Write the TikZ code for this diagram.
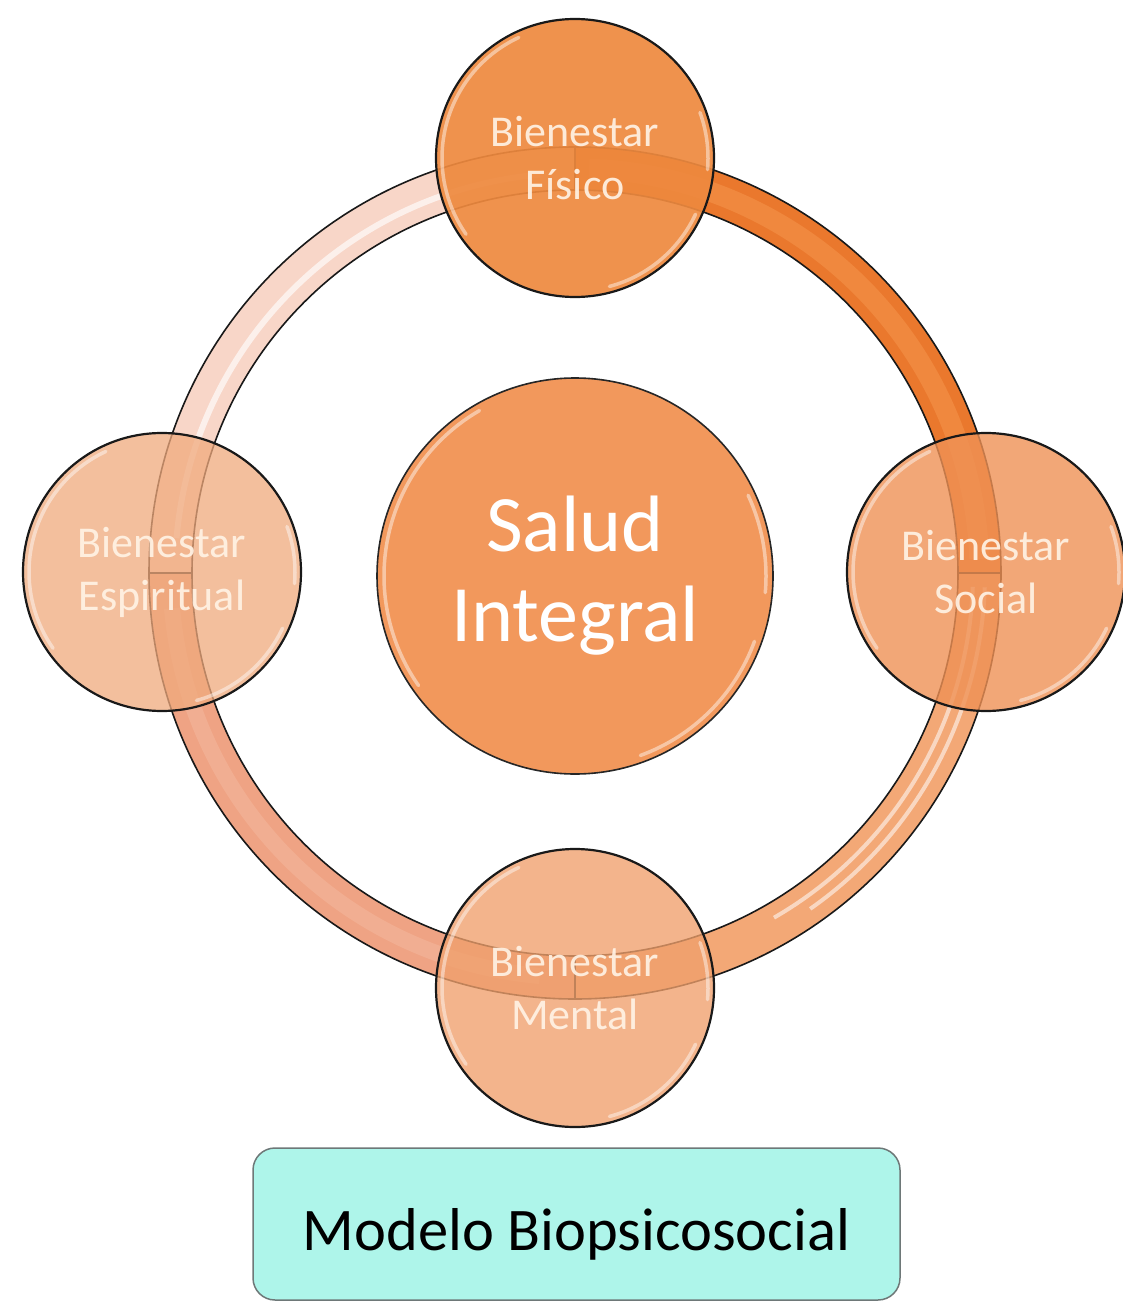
\documentclass[tikz,border=0pt]{standalone}
\usepackage{fontspec}
\setmainfont{Carlito}
\usetikzlibrary{calc}
\definecolor{ringTR}{RGB}{234,120,45}
\definecolor{ringTRmid}{RGB}{240,136,62}
\definecolor{ringBR}{RGB}{243,168,118}
\definecolor{ringBL}{RGB}{239,163,132}
\definecolor{ringBLmid}{RGB}{243,180,152}
\definecolor{ringTL}{RGB}{248,214,200}
\definecolor{satTop}{RGB}{238,137,62}
\definecolor{satRight}{RGB}{239,145,85}
\definecolor{satBottom}{RGB}{240,160,108}
\definecolor{satLeft}{RGB}{240,170,125}
\definecolor{ctrFill}{RGB}{242,152,92}
\definecolor{satText}{RGB}{255,242,228}
\definecolor{boxFill}{RGB}{174,245,234}
\definecolor{boxLine}{RGB}{110,120,120}
\begin{document}
\begin{tikzpicture}[x=1pt,y=1pt,
  sat/.style={circle, minimum size=278pt, inner sep=0pt, draw=black!90,
    line width=2.2pt, text=satText, text opacity=0.92, align=center,
    font=\fontsize{44}{53}\selectfont},
  rimlight/.style={white, opacity=0.45, line width=3.5pt, line cap=round},
  ringedge/.style={black!90, line width=1.6pt}]
\useasboundingbox (0,0) rectangle (1122,-1305);
\fill[white] (0,0) rectangle (1122,-1305);
\coordinate (O) at (575,-573);

% ring segments
\draw[line width=43pt, ringTR] ($(O)+(90:404.5)$) arc[start angle=90, end angle=0, radius=404.5];
\draw[line width=20pt, ringTRmid] ($(O)+(88:404.5)$) arc[start angle=88, end angle=2, radius=404.5];
\draw[line width=43pt, ringBR] ($(O)+(0:404.5)$) arc[start angle=0, end angle=-90, radius=404.5];
\draw[line width=4pt, white, opacity=0.55] ($(O)+(-2:398)$) arc[start angle=-2, end angle=-60, radius=398];
\draw[line width=4pt, white, opacity=0.55] ($(O)+(-2:410)$) arc[start angle=-2, end angle=-55, radius=410];
\draw[line width=43pt, ringBL] ($(O)+(-90:404.5)$) arc[start angle=-90, end angle=-180, radius=404.5];
\draw[line width=16pt, ringBLmid, opacity=0.7] ($(O)+(-95:404.5)$) arc[start angle=-95, end angle=-175, radius=404.5];
\draw[line width=43pt, ringTL] ($(O)+(180:404.5)$) arc[start angle=180, end angle=90, radius=404.5];
\draw[line width=6pt, white, opacity=0.65] ($(O)+(175:400)$) arc[start angle=175, end angle=95, radius=400];
\draw[ringedge] (O) circle[radius=383];
\draw[ringedge] (O) circle[radius=426];
\foreach \a in {0,90,180,270}
  \draw[ringedge] ($(O)+(\a:383)$) -- ($(O)+(\a:426)$);

% satellites
\node[sat, fill=satTop, fill opacity=0.92] (fis) at (575,-158) {Bienestar\\Físico};
\node[sat, fill=satRight, fill opacity=0.8] (soc) at (986,-572) {Bienestar\\Social};
\node[sat, fill=satBottom, fill opacity=0.78] (men) at (575,-988) {Bienestar\\Mental};
\node[sat, fill=satLeft, fill opacity=0.75] (esp) at (162,-572) {Bienestar\\Espiritual};
\foreach \n in {fis,soc,men,esp}{
  \draw[rimlight] ($(\n.center)+(115:133)$) arc[start angle=115, end angle=215, radius=133];
  \draw[rimlight] ($(\n.center)+(-25:133)$) arc[start angle=-25, end angle=-75, radius=133];
  \draw[rimlight] ($(\n.center)+(20:133)$) arc[start angle=20, end angle=-5, radius=133];
}

% centre
\node[circle, minimum size=396pt, inner sep=0pt, fill=ctrFill, draw=black!85,
  line width=1.6pt, text=white, align=center,
  font=\fontsize{80}{90}\selectfont] (sal) at (575,-576) {Salud\\Integral};
\draw[rimlight] ($(sal.center)+(120:191)$) arc[start angle=120, end angle=215, radius=191];
\draw[rimlight] ($(sal.center)+(-20:191)$) arc[start angle=-20, end angle=-70, radius=191];
\draw[rimlight] ($(sal.center)+(25:191)$) arc[start angle=25, end angle=-5, radius=191];

% caption box
\node[rounded corners=22pt, draw=boxLine, fill=boxFill, line width=1.5pt,
  minimum width=647pt, minimum height=152pt, inner sep=0pt,
  font=\fontsize{60.5}{70}\selectfont] (mod) at (576.5,-1224)
  {\raisebox{-11pt}[42pt][12pt]{Modelo Biopsicosocial}};
\end{tikzpicture}
\end{document}
